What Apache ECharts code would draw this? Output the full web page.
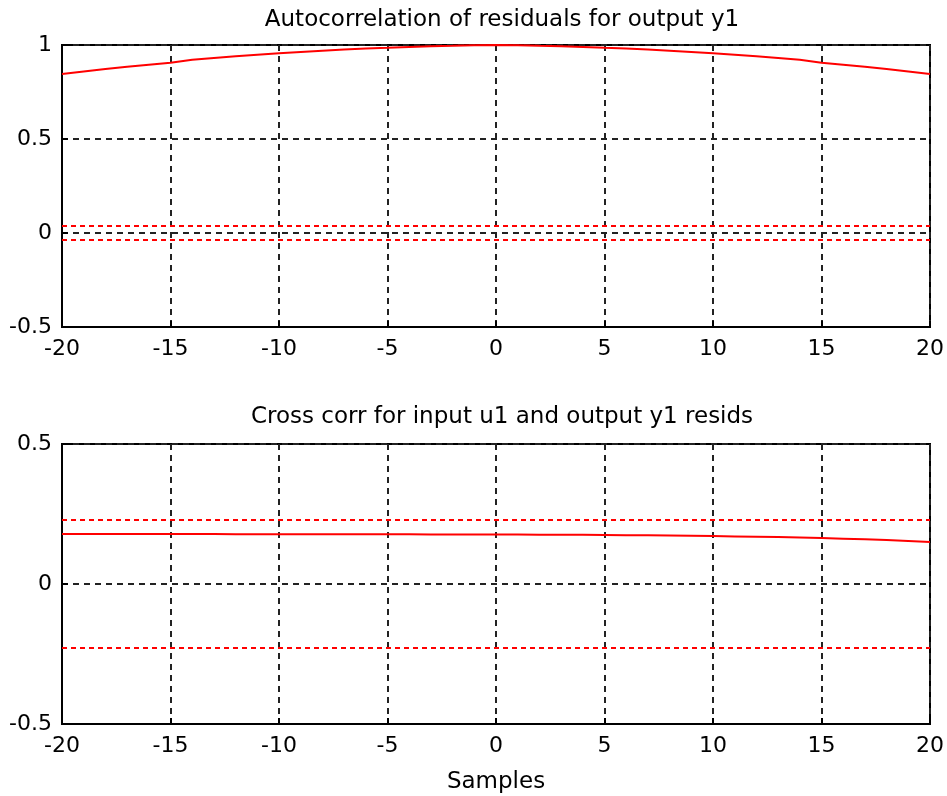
<!DOCTYPE html>
<html>
<head>
<meta charset="utf-8">
<script src="https://cdn.jsdelivr.net/npm/echarts@6/dist/echarts.min.js"></script>
<style>html,body{margin:0;padding:0;background:#fff}#c{width:947px;height:796px}</style>
</head>
<body>
<div id="c"></div>
<script>
const lags = [-20,-19,-18,-17,-16,-15,-14,-13,-12,-11,-10,-9,-8,-7,-6,-5,-4,-3,-2,-1,0,1,2,3,4,5,6,7,8,9,10,11,12,13,14,15,16,17,18,19,20];
const autoCorr = [0.846,0.859,0.872,0.884,0.895,0.905,0.921,0.931,0.940,0.948,0.956,0.963,0.970,0.976,0.981,0.985,0.990,0.994,0.996,0.999,1.000,0.999,0.996,0.994,0.990,0.985,0.981,0.976,0.970,0.963,0.956,0.948,0.940,0.931,0.921,0.905,0.895,0.884,0.872,0.859,0.846];
const crossCorr = [0.179,0.179,0.179,0.179,0.179,0.179,0.179,0.179,0.178,0.178,0.178,0.178,0.178,0.178,0.178,0.178,0.178,0.177,0.177,0.177,0.177,0.177,0.176,0.176,0.176,0.175,0.174,0.174,0.173,0.172,0.171,0.170,0.169,0.168,0.166,0.164,0.162,0.160,0.157,0.154,0.150];
const confAuto = 0.037;
const confCross = 0.229;
const xTicks = [-20,-15,-10,-5,0,5,10,15,20];
const topTitle = 'Autocorrelation of residuals for output y1';
const bottomTitle = 'Cross corr for input u1 and output y1 resids';
const xLabel = 'Samples';

const FONT = 'DejaVu Sans';
const FS = 22;
const TFS = 23;
const chart = echarts.init(document.getElementById('c'), null, {renderer: 'canvas'});
const pts = (ys) => lags.map((l, i) => [l, ys[i]]);
const flat = (v) => [[lags[0], v], [lags[lags.length - 1], v]];
const gridLine = {show: true, lineStyle: {color: '#222', type: [6, 5], width: 2}};
function xAxis(gi, name) {
  return {
    type: 'value', gridIndex: gi, min: -20, max: 20, interval: 5,
    name: name || '', nameLocation: 'middle', nameGap: 47,
    nameTextStyle: {fontFamily: FONT, fontSize: TFS, color: '#000'},
    axisLine: {show: true, onZero: false, lineStyle: {color: '#000', width: 2}},
    axisTick: {show: true, inside: true, length: 6, lineStyle: {color: '#000', width: 2}},
    axisLabel: {fontFamily: FONT, fontSize: FS, color: '#000', margin: 11},
    splitLine: gridLine
  };
}
function yAxis(gi, min, max) {
  return {
    type: 'value', gridIndex: gi, min: min, max: max, interval: 0.5,
    axisLine: {show: true, onZero: false, lineStyle: {color: '#000', width: 2}},
    axisTick: {show: true, inside: true, length: 6, lineStyle: {color: '#000', width: 2}},
    axisLabel: {fontFamily: FONT, fontSize: FS, color: '#000', margin: 10,
      formatter: v => (Math.abs(v) < 1e-9 ? '0' : String(v))},
    splitLine: gridLine
  };
}
const red = '#ff0000';
const dashRed = {color: red, width: 2, type: [5, 4]};
chart.setOption({
  animation: false,
  backgroundColor: '#fff',
  title: [
    {text: topTitle, left: 497, top: 4, textAlign: 'center', textStyle: {fontFamily: FONT, fontSize: TFS, fontWeight: 'normal', color: '#000'}},
    {text: bottomTitle, left: 497, top: 401, textAlign: 'center', textStyle: {fontFamily: FONT, fontSize: TFS, fontWeight: 'normal', color: '#000'}}
  ],
  grid: [
    {left: 62, top: 45, width: 870, height: 282, show: true, borderColor: '#000', borderWidth: 2, backgroundColor: 'transparent'},
    {left: 62, top: 444, width: 870, height: 280, show: true, borderColor: '#000', borderWidth: 2, backgroundColor: 'transparent'}
  ],
  xAxis: [xAxis(0), xAxis(1, xLabel)],
  yAxis: [yAxis(0, -0.5, 1), yAxis(1, -0.5, 0.5)],
  series: [
    {type: 'line', xAxisIndex: 0, yAxisIndex: 0, data: flat(confAuto), symbol: 'none', lineStyle: dashRed},
    {type: 'line', xAxisIndex: 0, yAxisIndex: 0, data: flat(-confAuto), symbol: 'none', lineStyle: dashRed},
    {type: 'line', xAxisIndex: 0, yAxisIndex: 0, data: pts(autoCorr), symbol: 'none', lineStyle: {color: red, width: 2}},
    {type: 'line', xAxisIndex: 1, yAxisIndex: 1, data: flat(confCross), symbol: 'none', lineStyle: dashRed},
    {type: 'line', xAxisIndex: 1, yAxisIndex: 1, data: flat(-confCross), symbol: 'none', lineStyle: dashRed},
    {type: 'line', xAxisIndex: 1, yAxisIndex: 1, data: pts(crossCorr), symbol: 'none', lineStyle: {color: red, width: 2}}
  ]
});
</script>
</body>
</html>
